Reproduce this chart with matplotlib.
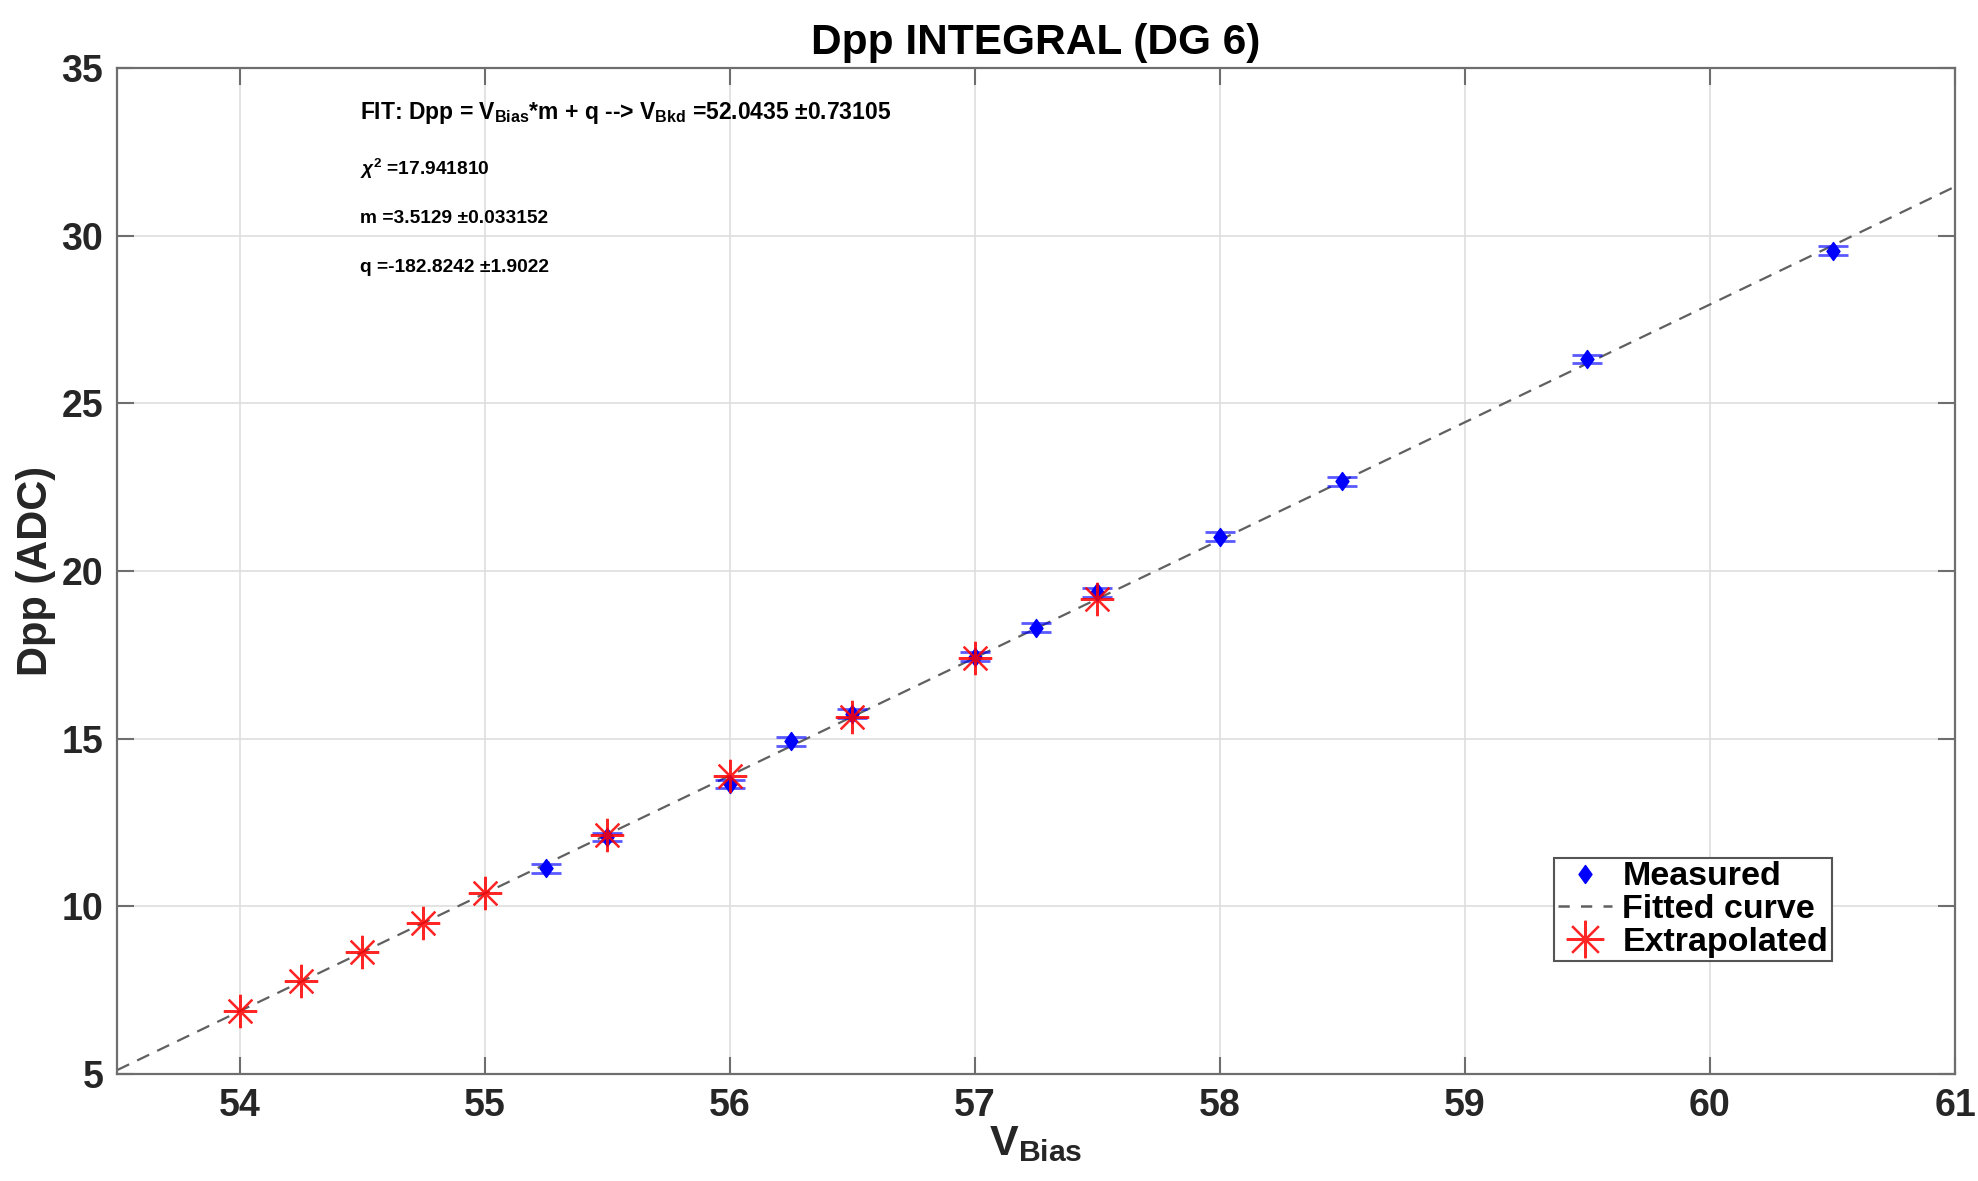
import matplotlib
matplotlib.use("Agg")
import matplotlib.pyplot as plt
from matplotlib.lines import Line2D
from matplotlib.path import Path

# ---------------- data ----------------
meas_x = [55.25, 55.5, 56.0, 56.25, 56.5, 57.0, 57.25, 57.5, 58.0, 58.5, 59.5, 60.5]
meas_y = [11.13, 12.07, 13.65, 14.92, 15.75, 17.44, 18.31, 19.36, 21.02, 22.67, 26.32, 29.55]
meas_err = [0.13, 0.13, 0.13, 0.13, 0.13, 0.13, 0.13, 0.13, 0.13, 0.13, 0.13, 0.13]

extra_x = [54.0, 54.25, 54.5, 54.75, 55.0, 55.5, 56.0, 56.5, 57.0, 57.5]
extra_y = [6.87, 7.76, 8.63, 9.51, 10.39, 12.14, 13.90, 15.66, 17.41, 19.17]

fit_m = 3.5129
fit_q = -182.8242

x_ticks = [54, 55, 56, 57, 58, 59, 60, 61]
y_ticks = [5, 10, 15, 20, 25, 30, 35]

annot_lines = [
    r"FIT: Dpp = V$_{\mathrm{Bias}}$*m + q --> V$_{\mathrm{Bkd}}$ =52.0435 ±0.73105",
    r"$\chi^{2}$ =17.941810",
    "m =3.5129 ±0.033152",
    "q =-182.8242 ±1.9022",
]

# ---------------- style ----------------
plt.rcParams['font.family'] = ['Liberation Sans', 'DejaVu Sans']
plt.rcParams['font.weight'] = 'bold'
plt.rcParams['mathtext.fontset'] = 'custom'
plt.rcParams['mathtext.rm'] = 'Liberation Sans:bold'
plt.rcParams['mathtext.it'] = 'Liberation Sans:bold:italic'
plt.rcParams['mathtext.bf'] = 'Liberation Sans:bold'

# MATLAB-like diamond (a bit wider than matplotlib's thin diamond)
diamond = Path([(0, 1), (0.72, 0), (0, -1), (-0.72, 0), (0, 1)],
               [Path.MOVETO, Path.LINETO, Path.LINETO, Path.LINETO, Path.CLOSEPOLY])

fig = plt.figure(figsize=(19.78, 11.81), dpi=100)
ax = fig.add_axes([0.0592, 0.0906, 0.9292, 0.8518])

axis_col = '#6e6e6e'
text_col = '#262626'

# fitted line
ax.axline((0, fit_q), slope=fit_m, color='#606060', ls=(0, (6, 4)), lw=1.6, zorder=2)

# measured with error bars
ax.errorbar(meas_x, meas_y, yerr=meas_err, fmt='none', ecolor=(0, 0, 1, 0.65),
            elinewidth=2.0, capsize=11, capthick=2.0, zorder=3)
ax.plot(meas_x, meas_y, ls='none', marker=diamond, ms=13, color='blue', mec='blue', zorder=4)

# extrapolated
ax.plot(extra_x, extra_y, ls='none', marker=(8, 2, 0), ms=24, mew=1.6,
        color=(1, 0, 0, 0.85), zorder=5)

ax.set_xlim(53.5, 61)
ax.set_ylim(5, 35)
ax.set_xticks(x_ticks)
ax.set_yticks(y_ticks)
ax.tick_params(direction='in', length=12, width=1.5, color=axis_col,
               labelsize=27, labelcolor=text_col, top=True, right=True, pad=10)
for lab in ax.get_xticklabels() + ax.get_yticklabels():
    lab.set_fontweight('bold')
for sp in ax.spines.values():
    sp.set_color(axis_col)
    sp.set_linewidth(1.6)
ax.grid(True, color='#dedede', lw=1.2)
ax.set_axisbelow(True)

ax.set_title("Dpp INTEGRAL (DG 6)", fontsize=30.5, fontweight='bold', color='black', pad=10)
ax.set_xlabel(r"V$_{\mathrm{Bias}}$", fontsize=31, fontweight='bold', color=text_col, labelpad=0)
ax.set_ylabel("Dpp (ADC)", fontsize=30, fontweight='bold', color=text_col, labelpad=4)

# annotation
ax.text(54.49, 33.48, annot_lines[0], fontsize=16.5, fontweight='bold', va='baseline', ha='left')
ax.text(54.49, 31.81, annot_lines[1], fontsize=13.8, fontweight='bold', va='baseline', ha='left')
ax.text(54.49, 30.38, annot_lines[2], fontsize=13.8, fontweight='bold', va='baseline', ha='left')
ax.text(54.49, 28.92, annot_lines[3], fontsize=13.8, fontweight='bold', va='baseline', ha='left')

# legend
handles = [
    Line2D([], [], ls='none', marker=diamond, ms=13, color='blue'),
    Line2D([], [], ls=(0, (4.5, 4.5)), lw=1.8, color='#606060'),
    Line2D([], [], ls='none', marker=(8, 2, 0), ms=27, mew=1.6, color=(1, 0, 0, 0.85)),
]
leg = ax.legend(handles, ["Measured", "Fitted curve", "Extrapolated"],
                loc='upper left', bbox_to_anchor=(0.782, 0.2147),
                prop={'weight': 'bold', 'size': 24.5, 'family': 'Liberation Sans'},
                frameon=True, fancybox=False, framealpha=1, edgecolor='#555555',
                borderpad=0.1, labelspacing=0.05, handlelength=1.6, handletextpad=0.3,
                borderaxespad=0)
leg.get_frame().set_linewidth(1.5)

fig.savefig("out.png", dpi=100)
